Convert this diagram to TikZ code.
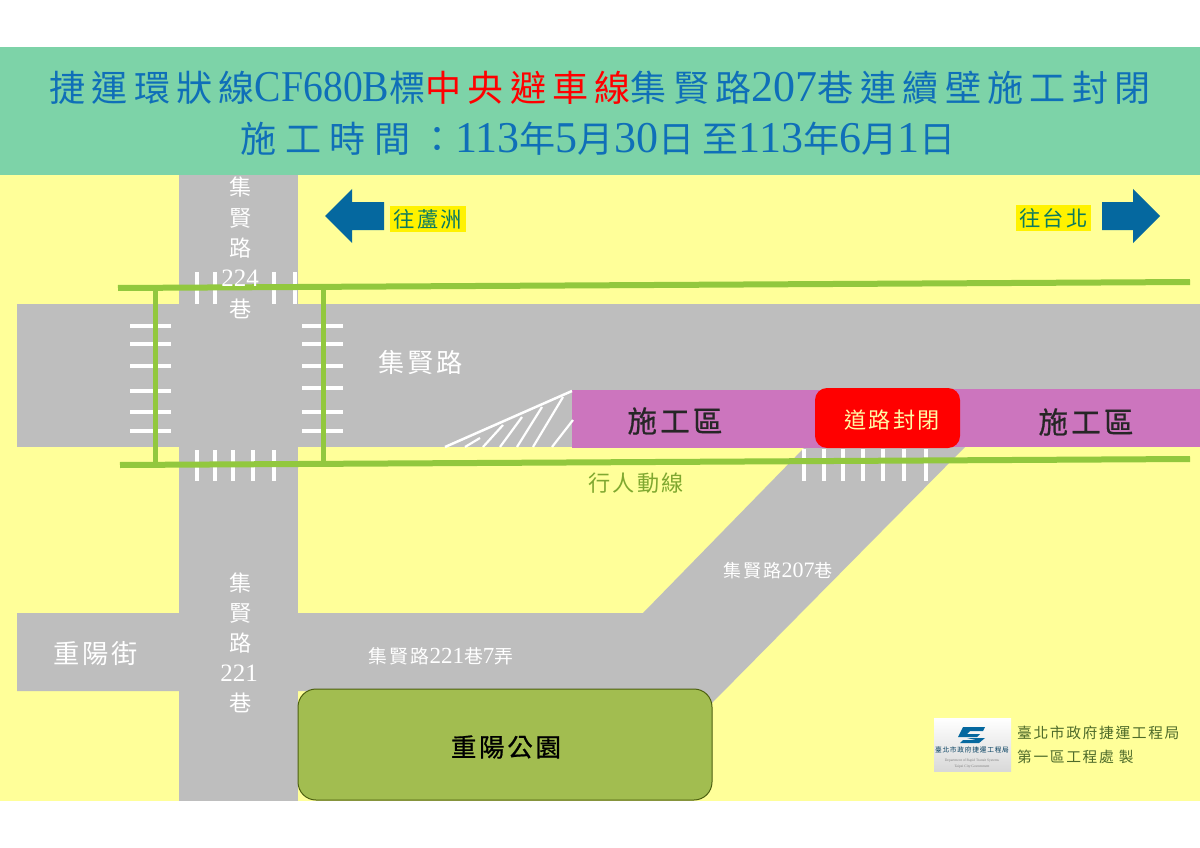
\documentclass[tikz,border=0pt]{standalone}
\usepackage{fontspec}
\setmainfont{Liberation Serif}
\newfontfamily\zhfont[Scale=0.82,LetterSpace=11]{Noto Sans CJK TC}
\newfontfamily\zhone[Scale=0.82,LetterSpace=17.5]{Noto Sans CJK TC}
\newfontfamily\zhtwo[Scale=0.82,LetterSpace=24]{Noto Sans CJK TC}
\newfontfamily\zhheavy[Scale=0.82,LetterSpace=11,FakeBold=0.7]{Noto Sans CJK TC}
\newfontfamily\narrowfont[FakeStretch=0.9]{Liberation Serif}
\newcommand{\zh}[1]{{\zhfont #1}}
\newcommand{\px}[1]{\fontsize{#1}{#1}\selectfont}
\definecolor{headgreen}{HTML}{7DD3A8}
\definecolor{groundyellow}{HTML}{FFFF99}
\definecolor{roadgray}{HTML}{BEBEBE}
\definecolor{workpurple}{HTML}{CC75BE}
\definecolor{walkgreen}{HTML}{92C83E}
\definecolor{arrowblue}{HTML}{05689F}
\definecolor{titleblue}{HTML}{0F6FB8}
\definecolor{parkgreen}{HTML}{A2BD50}
\definecolor{parkedge}{HTML}{4D6010}
\definecolor{tagtext}{HTML}{0B7A60}
\definecolor{walktext}{HTML}{7FA830}
\definecolor{officetext}{HTML}{4E6B2A}
\tikzset{
    roadlabel/.style={white, inner sep=0pt},
    zebra/.style={white, line width=4.5pt},
    walkline/.style={walkgreen, line width=6pt},
    worklabel/.style={text=black!85, inner sep=0pt},
    tag/.style={fill=yellow, text=tagtext, inner sep=0pt, minimum height=26pt}
}
\begin{document}
\begin{tikzpicture}[x=1pt, y=-1pt]
        \useasboundingbox (0,0) rectangle (1200,848);
        % ground and header band
        \fill[white] (0,0) rectangle (1200,848);
        \fill[groundyellow] (0,175) rectangle (1200,801);
        \fill[headgreen] (0,47) rectangle (1200,175);
        \node[text=titleblue, font=\px{44}, inner sep=0pt] (titleone) at (600,88)
            {{\zhone 捷運環狀線}{\narrowfont CF680B}{\zhone 標}\textcolor{red}{\zhone 中央避車線}{\zhone 集賢路}207{\zhone 巷連續壁施工封閉}};
        \node[text=titleblue, font=\px{44}, inner sep=0pt] (titletwo) at (598,139)
            {{\zhtwo 施工時間：}113{\zhtwo 年}5{\zhtwo 月}30{\zhtwo 日至}113{\zhtwo 年}6{\zhtwo 月}1{\zhtwo 日}};

        % roads
        \fill[roadgray] (179,175) rectangle (298,801);
        \fill[roadgray] (17,304) rectangle (1200,447);
        \fill[roadgray] (17,613) -- (643,613) -- (805,447) -- (965,447) -- (712,703) -- (690,691) -- (17,691) -- cycle;

        % work zones
        \fill[workpurple] (572,390) rectangle (830,448);
        \fill[workpurple] (830,389) rectangle (1200,447);
        \fill[red, rounded corners=12pt] (815,388) rectangle (960,448);

        % hatched taper
        \draw[white, line width=2.5pt] (445,447) -- (572,391);
        \foreach \xa/\ya/\xb/\yb in {465/447/480/438, 483/447/503/425, 500/447/522/417, 517/447/542/407, 533/447/563/397, 552/447/573/420} {
            \draw[white, line width=2.2pt] (\xa,\ya) -- (\xb,\yb);
        }

        % crosswalks
        \foreach \x in {197,215,274,295} {
            \draw[zebra] (\x,272) -- (\x,304);
        }
        \foreach \x in {197,215,233,253,274} {
            \draw[zebra] (\x,450) -- (\x,481);
        }
        \foreach \y in {326,344,366,391,412,431} {
            \draw[zebra] (130,\y) -- (171,\y);
        }
        \foreach \y in {326,344,366,388,412,431} {
            \draw[zebra] (302,\y) -- (343,\y);
        }
        \foreach \x in {804,824,843,863,883,904,926} {
            \draw[zebra] (\x,449) -- (\x,481);
        }

        % pedestrian route
        \draw[walkline, line width=5pt] (155,288) -- (155,465);
        \draw[walkline, line width=5pt] (323,287) -- (323,464);
        \draw[walkline] (118,288) -- (1190,282);
        \draw[walkline] (120,465) -- (1190,459);

        % park
        \draw[parkedge, fill=parkgreen, line width=1pt, rounded corners=18pt] (298,689) rectangle (712,800);
        \node[font=\px{31}, text=black, inner sep=0pt] (park) at (506,747) {{\zhheavy 重陽公園}};

        % direction arrows
        \fill[arrowblue] (325,216) -- (352,189) -- (352,202) -- (384,202) -- (384,230) -- (352,230) -- (352,243) -- cycle;
        \fill[arrowblue] (1160,216) -- (1133,189) -- (1133,202) -- (1102,202) -- (1102,230) -- (1133,230) -- (1133,243) -- cycle;
        \node[tag, font=\px{26}, minimum width=76pt] (toluzhou) at (428,219) {\zh{往蘆洲}};
        \node[tag, font=\px{26}, minimum width=75pt] (totaipei) at (1053.5,218) {\zh{往台北}};

        % road names
        \foreach \n/\y/\t in {a/187/集, b/218/賢, c/248/路, e/309/巷} {
            \node[roadlabel, font=\px{27}] (north\n) at (241,\y) {\zh{\t}};
        }
        \node[roadlabel, font=\px{25}] (northd) at (240,278) {224};
        \foreach \n/\y/\t in {a/583/集, b/613/賢, c/643/路, e/703/巷} {
            \node[roadlabel, font=\px{27}] (south\n) at (241,\y) {\zh{\t}};
        }
        \node[roadlabel, font=\px{25}] (southd) at (239,673) {221};
        \node[roadlabel, font=\px{32}] (mainroad) at (421,363) {\zh{集賢路}};
        \node[roadlabel, font=\px{32}] (chongyang) at (96,654) {\zh{重陽街}};
        \node[roadlabel, font=\px{22}] (lanea) at (778,571) {\zh{集賢路}207\zh{巷}};
        \node[roadlabel, font=\px{23}] (laneb) at (441,656) {\zh{集賢路}221\zh{巷}7\zh{弄}};

        % zone labels
        \node[worklabel, font=\px{36}] (worka) at (675,421) {{\zhheavy 施工區}};
        \node[worklabel, font=\px{36}] (workb) at (1086,422) {{\zhheavy 施工區}};
        \node[font=\px{27}, text=yellow!35, inner sep=0pt] (closed) at (892,420) {\zh{道路封閉}};
        \node[font=\px{27}, text=walktext, inner sep=0pt] (walkway) at (636,483) {\zh{行人動線}};

        % logo block
        \shade[top color=white, middle color=white, bottom color=gray!30] (934,718) rectangle (1011,771);
        \fill[arrowblue] (963,727) -- (985,727) -- (983,731) -- (970,731) -- (967,734) -- (980,734) -- (977,737) -- (958,737) -- cycle;
        \fill[arrowblue] (967,738) -- (985,738) -- (979,743) -- (960,743) -- (963,740) -- (976,740) -- cycle;
        \node[font=\px{8.2}, text=arrowblue!60!black, inner sep=0pt] (logoname) at (972,750) {\zh{臺北市政府捷運工程局}};
        \node[font=\px{3.6}, text=gray, inner sep=0pt] (logoen) at (972,761) {Department of Rapid Transit Systems};
        \node[font=\px{3.6}, text=gray, inner sep=0pt] (logocity) at (972,767) {Taipei City Government};

        % office
        \node[font=\px{18}, text=officetext, inner sep=0pt, anchor=west] (officea) at (1017,733) {\zh{臺北市政府捷運工程局}};
        \node[font=\px{18}, text=officetext, inner sep=0pt, anchor=west] (officeb) at (1017,757) {\zh{第一區工程處 製}};
    \end{tikzpicture}
\end{document}
